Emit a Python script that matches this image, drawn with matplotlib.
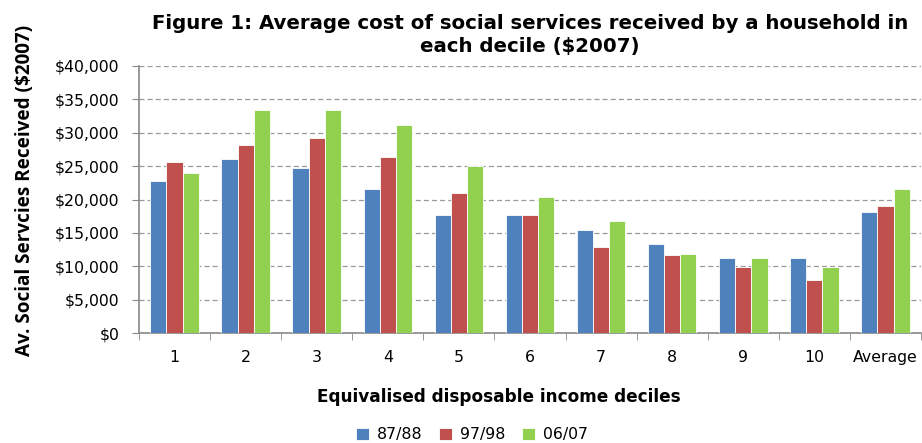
import matplotlib
matplotlib.use("Agg")
import matplotlib.pyplot as plt
import numpy as np
from matplotlib.ticker import FuncFormatter, FixedLocator

plt.rcParams['font.family'] = ['DejaVu Sans']

categories = ["1", "2", "3", "4", "5", "6", "7", "8", "9", "10", "Average"]
series_names = ["87/88", "97/98", "06/07"]
v_8788 = [22800, 26100, 24700, 21600, 17700, 17700, 15500, 13300, 11200, 11200, 18200]
v_9798 = [25600, 28100, 29200, 26300, 21000, 17700, 12900, 11700, 9900, 8000, 19100]
v_0607 = [23900, 33450, 33450, 31200, 24950, 20400, 16800, 11900, 11200, 9900, 21600]
colors = ["#4F81BD", "#C0504D", "#92D050"]

fig = plt.figure(figsize=(9.22, 4.43), dpi=100)
ax = fig.add_axes([139/922, 1 - 333/443, (921-139)/922, (333-66)/443])

x = np.arange(len(categories))
w = 0.228
for i, (vals, name, c) in enumerate(zip([v_8788, v_9798, v_0607], series_names, colors)):
    ax.bar(x + (i - 1) * w, vals, width=w, color=c, edgecolor="white",
           linewidth=0.6, label=name, zorder=3)

ax.set_xlim(-0.5, len(categories) - 0.5)
ax.set_ylim(0, 40000)
ax.set_yticks(np.arange(0, 40001, 5000))
ax.yaxis.set_major_formatter(FuncFormatter(lambda v, p: f"${v:,.0f}"))
ax.set_xticks(x)
ax.set_xticklabels(categories)
ax.xaxis.set_minor_locator(FixedLocator(np.arange(-0.5, len(categories), 1.0)))
ax.tick_params(axis="x", which="major", length=0, pad=12, labelsize=11.3)
ax.tick_params(axis="x", which="minor", length=5, color="#888888", direction="out")
ax.tick_params(axis="y", length=5, color="#888888", direction="out", labelsize=11.3, pad=9)

ax.grid(axis="y", linestyle=(0, (4, 2.5)), color="#999999", linewidth=0.9, zorder=0)
for s in ["top", "right"]:
    ax.spines[s].set_visible(False)
for s in ["left", "bottom"]:
    ax.spines[s].set_color("#888888")
    ax.spines[s].set_linewidth(1.2)

fig.text(530/922, 1 - 35/443,
         "Figure 1: Average cost of social services received by a household in\neach decile ($2007)",
         ha="center", va="center", fontsize=14.2, fontweight="bold", linespacing=1.3)
fig.text(25/922, 1 - 190/443, "Av. Social Servcies Received ($2007)",
         rotation=90, ha="center", va="center", fontsize=13.6, fontweight="bold",
         family=["Open Sans", "DejaVu Sans"])
fig.text(499/922, 1 - 397/443, "Equivalised disposable income deciles",
         ha="center", va="center", fontsize=12.2, fontweight="bold")

fig.legend(loc="center", bbox_to_anchor=(472/922, 1 - 435/443), ncol=3, frameon=False,
           fontsize=11.3, handlelength=0.8, handleheight=0.8, columnspacing=1.1,
           handletextpad=0.5)

fig.savefig("out.png", dpi=100)
